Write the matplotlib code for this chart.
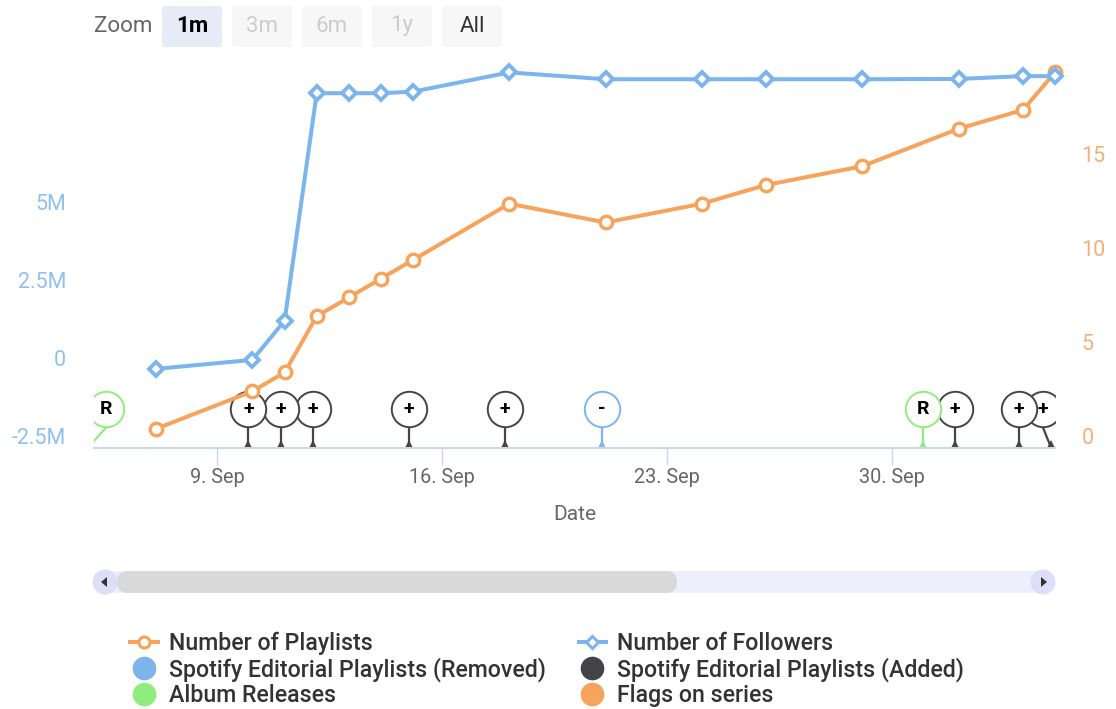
import matplotlib
matplotlib.use("Agg")
import matplotlib.pyplot as plt
import matplotlib.dates as mdates
import pandas as pd
from matplotlib.lines import Line2D
from matplotlib.patches import Circle, FancyBboxPatch, Polygon, Rectangle
from matplotlib.transforms import ScaledTranslation

plt.rcParams["font.family"] = ["Roboto", "DejaVu Sans"]

W, H = 1116, 709

# data
dates = ["09-07", "09-10", "09-11", "09-12", "09-13", "09-14", "09-15", "09-18",
         "09-21", "09-24", "09-26", "09-29", "10-02", "10-04", "10-05"]
playlists = [1, 3, 4, 7, 8, 9, 10, 13, 12, 13, 14, 15, 17, 18, 20]
followers = [0.03, 0.32, 1.58, 8.9, 8.9, 8.9, 8.95, 9.57, 9.35, 9.35, 9.35,
             9.35, 9.36, 9.45, 9.45]

flag_dates = ["09-05", "09-10", "09-11", "09-12", "09-15", "09-18", "09-21",
              "10-01", "10-02", "10-04", "10-05"]
flag_text = ["R", "+", "+", "+", "+", "+", "-", "R", "+", "+", "+"]

left_ticks = [-2.5, 0, 2.5, 5]
left_labels = ["-2.5M", "0", "2.5M", "5M"]
right_ticks = [0, 5, 10, 15]
tick_dates = ["09-09", "09-16", "09-23", "09-30"]
tick_labels = ["9. Sep", "16. Sep", "23. Sep", "30. Sep"]

ORANGE = "#f7a35c"
BLUE = "#7cb5ec"
GREEN = "#90ed7d"
DARK = "#434348"
flag_colors = {"R": GREEN, "+": DARK, "-": BLUE}


def to_day(md, hour=0.0):
    return mdates.date2num(pd.Timestamp("2019-" + md)) + hour / 24


x_points = [to_day(d, 2.2) for d in dates]
x_flags = [to_day(d, -0.8) for d in flag_dates]

fig = plt.figure(figsize=(W / 100, H / 100), dpi=100, facecolor="white")

# page furniture in pixel coordinates
page = fig.add_axes([0, 0, 1, 1])
page.set_xlim(0, W)
page.set_ylim(H, 0)
page.axis("off")

ax = fig.add_axes([94 / W, 1 - 447.5 / H, (1055 - 94) / W, (447.5 - 55) / H])
ax.patch.set_alpha(0)
ax2 = ax.twinx()
ax.set_zorder(ax2.get_zorder() + 1)  # followers end up over playlists
ax2.patch.set_alpha(0)

ax.set_xlim(to_day("09-05", 3.7), to_day("10-05", 2.2))
ax.set_ylim(-2.5, 10.13)
ax2.set_ylim(0, 20.93)

# flags, earlier ones sit on top of later ones
fx = ax2.get_xaxis_transform()
xmin, xmax = ax.get_xlim()
for i, (x, s) in enumerate(zip(x_flags, flag_text)):
    col = flag_colors[s]
    z = 3 + 0.01 * (len(x_flags) - i)
    if s == "R":
        z += 0.5
    cx = min(max(x, xmin + 0.37), xmax - 0.37)
    ax2.plot([cx, x], [0.05, 0], color=col, lw=1.6, transform=fx, zorder=z)
    ax2.plot([x], [0.006], marker="^", ms=7, color=col, mew=0, transform=fx, zorder=z)
    ax2.plot([cx], [0.098], marker="o", ms=25.5, mfc="white", mec=col, mew=1.4,
             transform=fx, zorder=z)
    ax2.text(cx, 0.098, s, transform=fx, ha="center", va="center", color="black",
             fontsize=14, fontweight="bold", zorder=z)

ax2.plot(x_points, playlists, color=ORANGE, lw=2.9, marker="o", ms=9, mfc="white",
         mec=ORANGE, mew=2.4, clip_on=False, zorder=6)
ax.plot(x_points, followers, color=BLUE, lw=2.9, marker="D", ms=7, mfc="white",
        mec=BLUE, mew=2.8, clip_on=False, zorder=5)

# axes look
for a in (ax, ax2):
    for side in ("top", "left", "right"):
        a.spines[side].set_visible(False)
ax2.spines["bottom"].set_visible(False)
ax.spines["bottom"].set_color("#ccd6eb")
ax.spines["bottom"].set_linewidth(1.5)

ax.set_xticks([to_day(d) for d in tick_dates], tick_labels)
ax.tick_params(axis="x", length=12, width=1, color="#ccd6eb", labelcolor="#666666",
               labelsize=14.3, pad=2.5)
ax.set_xlabel("Date", fontsize=15, color="#666666", labelpad=13)

# y labels sit a bit above their tick, as in the original
ax.set_yticks(left_ticks, left_labels)
ax.tick_params(axis="y", length=0, labelcolor="#8fc0ee", labelsize=15.5, pad=20)
ax2.set_yticks(right_ticks, [str(v) for v in right_ticks])
ax2.tick_params(axis="y", length=0, labelcolor="#f2b07a", labelsize=15.5, pad=19)
up = ScaledTranslation(0, 12 / 100, fig.dpi_scale_trans)
for lab in ax.get_yticklabels() + ax2.get_yticklabels():
    lab.set_transform(lab.get_transform() + up)

# range buttons
page.text(94, 27, "Zoom", fontsize=16, color="#666666", va="center")
buttons = ["1m", "3m", "6m", "1y", "All"]
btn_fill = ["#e6ebf5", "#f7f7f7", "#f7f7f7", "#f7f7f7", "#f7f7f7"]
btn_text = ["black", "#cccccc", "#cccccc", "#cccccc", "#333333"]
for i, b in enumerate(buttons):
    x0 = 162 + 70 * i
    page.add_patch(FancyBboxPatch((x0 + 2, 8), 56, 37, boxstyle="round,pad=2,rounding_size=3",
                                  fc=btn_fill[i], ec="none"))
    page.text(x0 + 30, 26, b, fontsize=16, color=btn_text[i], ha="center", va="center",
              fontweight="bold" if i == 0 else "normal")

# scrollbar
page.add_patch(Rectangle((105, 571), 938, 22, fc="#eeeefd", ec="none"))
page.add_patch(FancyBboxPatch((117, 571), 560, 22, boxstyle="round,pad=0,rounding_size=11",
                              fc="#d9d9d9", ec="none"))
for cx, tip in ((105, -1), (1043, 1)):
    page.add_patch(Circle((cx, 582), 12.5, fc="#dedef8", ec="none"))
    page.add_patch(Polygon([(cx + 4 * tip, 582), (cx - 2 * tip, 577), (cx - 2 * tip, 587)],
                           fc="#333333", ec="none"))

# legend
handles = [
    Line2D([], [], color=ORANGE, lw=2.9, marker="o", ms=8, mfc="white", mec=ORANGE, mew=2.2,
           solid_capstyle="butt"),
    Line2D([], [], color=BLUE, marker="o", ms=16, ls="none"),
    Line2D([], [], color=GREEN, marker="o", ms=16, ls="none"),
    Line2D([], [], color=BLUE, lw=2.9, marker="D", ms=6.5, mfc="white", mec=BLUE, mew=2.2,
           solid_capstyle="butt"),
    Line2D([], [], color=DARK, marker="o", ms=16, ls="none"),
    Line2D([], [], color=ORANGE, marker="o", ms=16, ls="none"),
]
labels = ["Number of Playlists", "Spotify Editorial Playlists (Removed)", "Album Releases",
          "Number of Followers", "Spotify Editorial Playlists (Added)", "Flags on series"]
leg = fig.legend(handles, labels, ncols=2, frameon=False, loc="upper left",
                 bbox_to_anchor=(128 / W, 1 - 631.5 / H), borderpad=0, borderaxespad=0,
                 handlelength=1.36, handletextpad=0.4, labelspacing=0.1, columnspacing=1.33,
                 labelcolor="#333333", prop={"family": "Roboto", "weight": "medium", "size": 16.7})

fig.savefig("out.png", dpi=100)
